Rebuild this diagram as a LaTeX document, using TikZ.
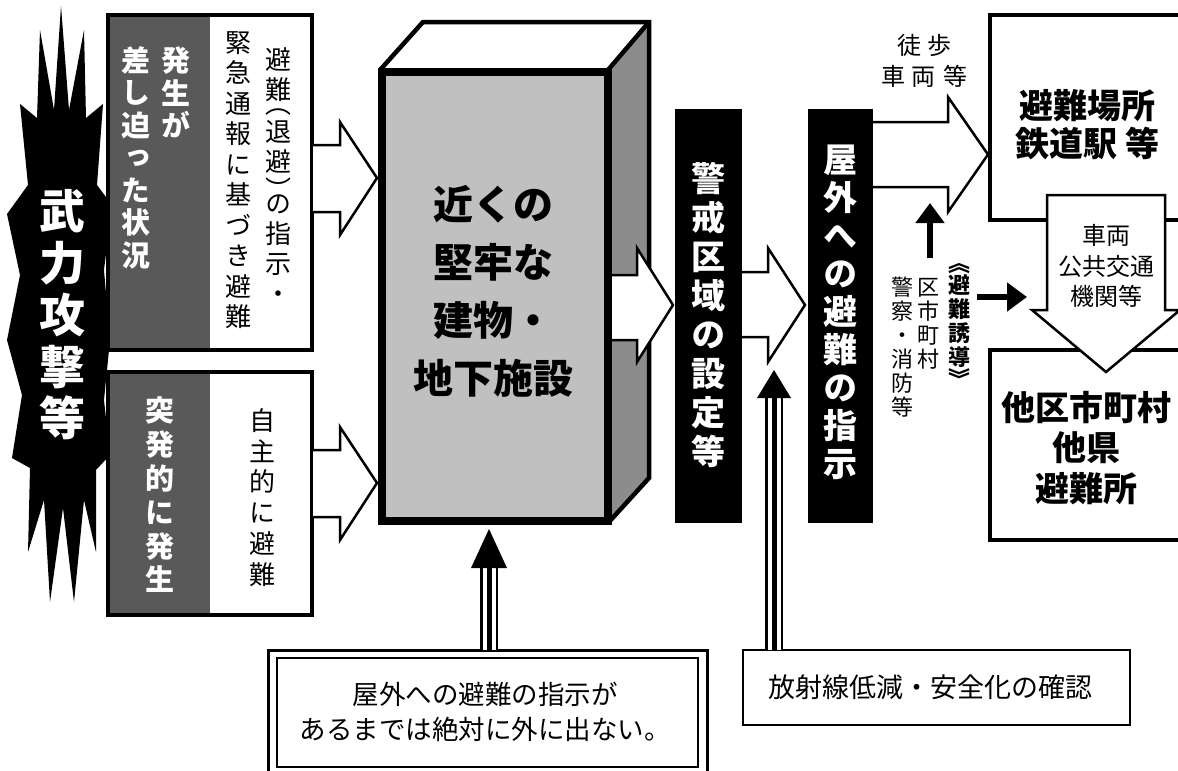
\documentclass[tikz,border=0pt]{standalone}
\usepackage{fontspec}
\setmainfont{Noto Sans CJK JP}
\newfontfamily\vjp{Noto Sans CJK JP}[RawFeature=+vert]
\usetikzlibrary{arrows.meta}
\definecolor{leftgray}{HTML}{595959}
\definecolor{frontgray}{HTML}{C0C0C0}
\definecolor{sidegray}{HTML}{8C8C8C}
\newcommand\fsz[2]{\fontsize{#1}{#2}\selectfont}
\tikzset{
  vtext/.style={inner sep=0pt, align=center},
  blockarrow/.style={draw=black, fill=white, line width=2.5pt, line join=miter},
  framebox/.style={draw=black, line width=3.5pt},
  smallarrow/.style={line width=6pt, -{Triangle[length=20pt,width=28pt]}},
}
\begin{document}
\begin{tikzpicture}[x=1pt,y=-1pt]
\useasboundingbox (0,0) rectangle (1178,771);
\clip (0,0) rectangle (1178,771);

% starburst
\fill[black] (61,6) -- (69,110) -- (84,30) -- (86,118) -- (103,104) -- (97,185) -- (112,205) -- (104,270) -- (110,340) -- (104,400) -- (110,455) -- (96,470) -- (96,552) -- (84,500) -- (74,602) -- (63,508) -- (50,602) -- (44,500) -- (28,552) -- (30,468) -- (12,458) -- (22,395) -- (7,340) -- (20,275) -- (7,214) -- (28,185) -- (20,104) -- (37,118) -- (40,30) -- (54,110) -- cycle;
\node[vtext, text=white, font=\vjp\bfseries\fsz{46}{51.75}] (attack) at (62,315) {武\\力\\攻\\撃\\等};

% top-left box
\fill[white] (108,15) rectangle (312,350);
\fill[leftgray] (108,15) rectangle (210,350);
\draw[framebox] (108,15) rectangle (312,350);
\node[vtext, text=white, font=\vjp\bfseries\fsz{29}{32.5}] (imm1) at (176,92.5) {発\\生\\が};
\node[vtext, text=white, font=\vjp\bfseries\fsz{29}{32.5}] (imm2) at (136,157.5) {差\\し\\迫\\っ\\た\\状\\況};
\node[vtext, font=\vjp\fsz{26}{30}] (ev1) at (278,176) {避\\難\\[-16pt]︵\\[-2pt]退\\避\\[-2pt]︶\\[-16pt]の\\指\\示\\・};
\node[vtext, font=\vjp\fsz{26}{30.5}] (ev2) at (238,180) {緊\\急\\通\\報\\に\\基\\づ\\き\\避\\難};

% bottom-left box
\fill[white] (108,372) rectangle (312,615);
\fill[leftgray] (108,372) rectangle (210,615);
\draw[framebox] (108,372) rectangle (312,615);
\node[vtext, text=white, font=\vjp\bfseries\fsz{29}{33.8}] (sud) at (160,495) {突\\発\\的\\に\\発\\生};
\node[vtext, font=\vjp\fsz{26}{30.8}] (self) at (262,497.5) {自\\主\\的\\に\\避\\難};

% arrows into the building
\filldraw[blockarrow] (313,145) -- (340,145) -- (340,122) -- (377,178) -- (340,235) -- (340,212) -- (313,212);
\filldraw[blockarrow] (313,450) -- (340,450) -- (340,427) -- (377,483) -- (340,540) -- (340,517) -- (313,517);

% building
\fill[white] (380,70) -- (423,22) -- (649,22) -- (608,70) -- cycle;
\fill[sidegray] (608,70) -- (649,22) -- (649,478) -- (608,523) -- cycle;
\draw[line width=4.5pt, line join=miter] (380,70) -- (423,22) -- (649,22) -- (649,478) -- (608,523);
\draw[line width=4.5pt] (608,70) -- (649,22);
\draw[fill=frontgray, line width=8pt, line join=miter] (382,72) rectangle (608,521);
\node[vtext, font=\bfseries\fsz{40}{58}] (bldg) at (493,291) {近くの\\堅牢な\\建物・\\地下施設};
\filldraw[blockarrow] (612,275) -- (637,275) -- (637,248) -- (673,305) -- (637,362) -- (637,340) -- (612,340);

% bars
\fill[black] (675,109) rectangle (742,523);
\node[vtext, text=white, font=\vjp\bfseries\fsz{34}{39}] (zone) at (708.5,315) {警\\戒\\区\\域\\の\\設\\定\\等};
\fill[black] (808,109) rectangle (873,523);
\node[vtext, text=white, font=\vjp\bfseries\fsz{34}{38}] (order) at (840.5,312.5) {屋\\外\\へ\\の\\避\\難\\の\\指\\示};
\filldraw[blockarrow] (742,272) -- (768,272) -- (768,248) -- (805,305) -- (768,362) -- (768,337) -- (742,337);
\filldraw[blockarrow] (873,122) -- (948,122) -- (948,97) -- (988,154.5) -- (948,212) -- (948,187) -- (873,187);

% right boxes
\draw[framebox, fill=white] (990,15) rectangle (1195,220);
\node[vtext, font=\bfseries\fsz{34}{38}] (shelter) at (1087,125) {避難場所\\鉄道駅\hspace{8pt}等};
\draw[framebox, fill=white] (990,350) rectangle (1195,540);
\node[vtext, font=\bfseries\fsz{34}{40.5}] (other) at (1086,448) {他区市町村\\他県\\避難所};
\draw[blockarrow] (1047,195) -- (1165,195) -- (1165,310) -- (1180,310) -- (1106,372) -- (1032,310) -- (1047,310) -- cycle;
\node[vtext, font=\fsz{24}{30.5}] (transit) at (1106,266) {車両\\公共交通\\機関等};

% walking label
\node[vtext, font=\fsz{24}{31}] (walk) at (924,61) {徒\hspace{6pt}歩\\車\hspace{7pt}両\hspace{7pt}等};

% guidance labels
\node[vtext, font=\vjp\bfseries\fsz{22}{24}] (guide) at (959,325) {︽\\[-2pt]避\\難\\誘\\導\\[-2pt]︾};
\node[vtext, font=\vjp\fsz{22}{24}] (city) at (928,323.5) {区\\市\\町\\村};
\node[vtext, font=\vjp\fsz{22}{24}] (police) at (902,347.5) {警\\察\\・\\消\\防\\等};
\coordinate (upS) at (930,258);
\coordinate (upE) at (930,203);
\draw[smallarrow] (upS) -- (upE);
\coordinate (rtS) at (977,297);
\coordinate (rtE) at (1027,297);
\draw[smallarrow] (rtS) -- (rtE);

% bottom notes
\draw[line width=3pt] (268,650) rectangle (707,790);
\draw[line width=2.5pt] (277,658) rectangle (698,767);
\node[vtext, font=\fsz{26.5}{35}] (note1) at (485,711.5) {屋外への避難の指示が\\あるまでは絶対に外に出ない。};
\draw[line width=2.5pt] (743,650) rectangle (1130,725);
\node[vtext, font=\fsz{27}{30}] (note2) at (930,687.5) {放射線低減・安全化の確認};

% triple-line arrows
\fill[black] (480,567) rectangle (498,650);
\fill[white] (482.5,567) rectangle (486.5,650);
\fill[white] (491.5,567) rectangle (495.5,650);
\fill[black] (489,529) -- (507,568) -- (471,568) -- cycle;
\fill[black] (765,397) rectangle (783,650);
\fill[white] (767.5,397) rectangle (771.5,650);
\fill[white] (776.5,397) rectangle (780.5,650);
\fill[black] (774,370) -- (791,398) -- (757,398) -- cycle;
\end{tikzpicture}
\end{document}
